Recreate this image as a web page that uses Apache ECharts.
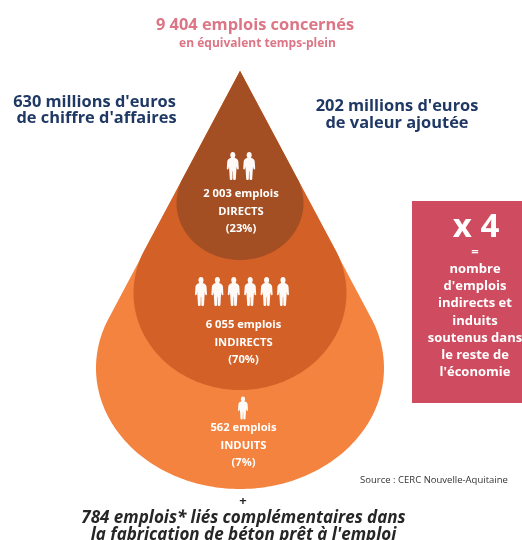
<!DOCTYPE html>
<html><head><meta charset="utf-8">
<style>html,body{margin:0;padding:0;background:#fff}#c{width:522px;height:540px}</style>
<script src="https://cdn.jsdelivr.net/npm/echarts@6/dist/echarts.min.js"></script>
</head><body><div id="c"></div>
<script>
// Nested employment drops: share of jobs by type, drawn from widest to narrowest.
const dropNames = ['INDUITS', 'INDIRECTS', 'DIRECTS'];
const dropColors = ['#F58340', '#D36027', '#A44F23'];
const dropApexY = [71, 71, 71];
const dropCentreY = [368, 293, 203];
const dropRadiusX = [144, 106.5, 63.5];
const dropRadiusY = [121, 97, 57];
const centreX = 240;

const jobCounts = ['562 emplois', '6 055 emplois', '2 003 emplois'];
const jobShares = ['(7%)', '(70%)', '(23%)'];
const labelX = [243.5, 243.5, 241];
const labelY = [428, 325, 194];
const iconX = [243, 242, 241];
const iconY = [408, 291.5, 166];
const iconCounts = [1, 6, 2];
const iconW = [10, 12, 12];
const iconH = [23, 29, 28];
const iconStep = 16.4;

const headline = ['9 404 emplois concernés', 'en équivalent temps-plein'];
const revenue = ["630 millions d'euros", "de chiffre d'affaires"];
const addedValue = ["202 millions d'euros", 'de valeur ajoutée'];
const boxBig = 'x 4';
const boxLines = ['=', 'nombre', "d'emplois", 'indirects et', 'induits', 'soutenus dans', 'le reste de', "l'économie"];
const sourceNote = 'Source : CERC Nouvelle-Aquitaine';
const extraPlus = '+';
const extraLines = ['784 emplois* liés complémentaires dans', "la fabrication de béton prêt à l'emploi"];

const FONT = '"Open Sans", "Noto Sans", sans-serif';
const personPath = 'path://M10 0C13 0 14.6 2.4 14.2 5.2C14 6.8 13.4 8 12.8 8.8C16 9.6 18.6 11 19.2 14L20 25C20 27 17.4 27 17 25L16.4 22L15.8 29L15 41C14.8 42.6 10.8 42.6 10.6 41L10.3 29H9.7L9.4 41C9.2 42.6 5.2 42.6 5 41L4.2 29L3.6 22L3 25C2.6 27 0 27 0 25L0.8 14C1.4 11 4 9.6 7.2 8.8C6.6 8 6 6.8 5.8 5.2C5.4 2.4 7 0 10 0Z';

// Centred icon rows, one per job type
const iconData = [];
iconCounts.forEach((n, i) => {
  for (let k = 0; k < n; k++) {
    iconData.push({
      value: [iconX[i] + (k - (n - 1) / 2) * iconStep, iconY[i]],
      symbolSize: [iconW[i], iconH[i]]
    });
  }
});

const textRows = (lines, x, y, step, style, z) => lines.map((t, i) => ({
  type: 'text', x, y: y + i * step, z: z || 5,
  style: Object.assign({text: t, fontFamily: FONT, textAlign: 'center', textVerticalAlign: 'middle'}, style)
}));

const chart = echarts.init(document.getElementById('c'), null, {renderer: 'canvas'});
chart.setOption({
  animation: false,
  backgroundColor: '#fff',
  grid: {left: 0, top: 0, width: 522, height: 540},
  xAxis: {type: 'value', min: 0, max: 522, show: false},
  yAxis: {type: 'value', min: 0, max: 540, inverse: true, show: false},
  series: [
    {
      type: 'custom',
      coordinateSystem: 'cartesian2d',
      clip: false,
      data: dropNames.map((n, i) => ({
        name: n,
        value: [centreX, dropApexY[i], dropCentreY[i], dropRadiusX[i], dropRadiusY[i], i]
      })),
      encode: {x: 0, y: 1},
      // Each drop is an ellipse closed by the two tangents from its apex
      renderItem(params, api) {
        const apex = api.coord([api.value(0), api.value(1)]);
        const c = api.coord([api.value(0), api.value(2)]);
        const rx = api.coord([api.value(0) + api.value(3), api.value(2)])[0] - c[0];
        const ry = api.coord([api.value(0), api.value(2) + api.value(4)])[1] - c[1];
        const a = Math.asin(rx / ((c[1] - apex[1]) * rx / ry));
        const points = [apex];
        const steps = 160;
        for (let s = 0; s <= steps; s++) {
          const t = -a + (Math.PI + 2 * a) * s / steps;
          points.push([c[0] + rx * Math.cos(t), c[1] + ry * Math.sin(t)]);
        }
        return {
          type: 'polygon',
          shape: {points},
          style: {fill: dropColors[api.value(5)]}
        };
      },
      z: 1
    },
    {
      type: 'scatter',
      data: iconData,
      symbol: personPath,
      itemStyle: {color: '#fff', opacity: 0.97},
      z: 3
    }
  ],
  graphic: {elements: [
    ...textRows([headline[0]], 255, 25, 0, {fontSize: 16.4, fontWeight: 700, fill: '#DC7585'}),
    ...textRows([headline[1]], 257.5, 44, 0, {fontSize: 12, fontWeight: 700, fill: '#DC7585'}),
    ...textRows([revenue[0]], 94.5, 102, 0, {fontSize: 16.4, fontWeight: 700, fill: '#1F3864'}),
    ...textRows([revenue[1]], 96.5, 118, 0, {fontSize: 16.4, fontWeight: 700, fill: '#1F3864'}),
    ...textRows(addedValue, 397, 106, 17, {fontSize: 16.4, fontWeight: 700, fill: '#1F3864'}),
    ...dropNames.flatMap((n, i) =>
      textRows([jobCounts[i], n, jobShares[i]], labelX[i], labelY[i], 17.5, {fontSize: 11.2, fontWeight: 700, fill: '#fff'})
    ),
    {type: 'rect', shape: {x: 412, y: 201, width: 110, height: 202}, style: {fill: '#CF4C60'}, z: 4},
    ...textRows([boxBig], 476, 228, 0, {fontSize: 33, fontWeight: 700, fill: '#fff'}),
    ...textRows(boxLines, 475, 252, 17.2, {fontSize: 13, fontWeight: 700, fill: '#fff'}),
    ...textRows([sourceNote], 434, 480, 0, {fontSize: 9.5, fill: '#333'}),
    ...textRows([extraPlus], 243, 501, 0, {fontSize: 13, fontWeight: 700, fill: '#262626'}),
    ...textRows(extraLines, 243.5, 518, 17, {fontSize: 17, fontWeight: 700, fontStyle: 'italic', fill: '#262626'})
  ]}
});
</script></body></html>
